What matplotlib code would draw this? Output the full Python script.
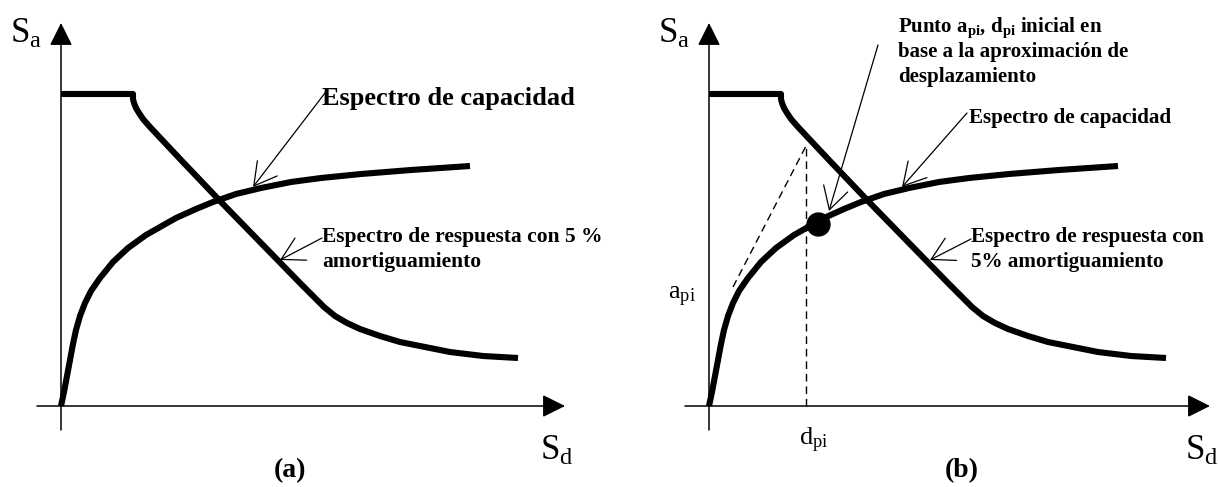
import matplotlib
matplotlib.use('Agg')
import matplotlib.pyplot as plt
from matplotlib.patches import FancyArrowPatch

plt.rcParams['font.family'] = ['Liberation Serif', 'DejaVu Serif']
plt.rcParams['mathtext.fontset'] = 'custom'
plt.rcParams['mathtext.rm'] = 'Liberation Serif'
plt.rcParams['mathtext.it'] = 'Liberation Serif:italic'
plt.rcParams['mathtext.bf'] = 'Liberation Serif:bold'

# schematic units, origin where the two axes cross
cap_sd = [0, 3, 6, 9, 12, 15, 19, 24, 30, 39, 52, 67, 85, 115, 135, 152, 175, 200, 230, 260, 300, 350, 409]
cap_sa = [0, 14, 30, 46, 62, 76, 90, 103, 115, 128, 144, 158, 171, 188, 197, 204, 212, 218, 224, 228, 232, 236, 240]

resp_sd = [0, 72, 72, 73, 75, 78, 82, 89, 120, 160, 200, 240, 252, 263, 274, 286, 299, 319, 339, 364, 389, 422, 457]
resp_sa = [312, 312, 307, 303, 298, 293, 287, 279, 246, 204, 163, 122, 110, 99, 90, 83, 77, 70, 64, 59, 54, 50, 48]

# panel (b) construction
dpi_sd = 97
dpi_top = 260
secant_sd = [24, 97]
secant_sa = [119, 260]
point_sd, point_sa = 109, 182

fig = plt.figure(figsize=(12.18, 4.87), dpi=100)
ax_a = fig.add_axes([0, 0, 0.5, 1])
ax_b = fig.add_axes([0.5, 0, 0.5, 1])
ax_a.set_xlim(-61, 548)
ax_b.set_xlim(-100, 509)
for ax in (ax_a, ax_b):
    ax.set_ylim(-81, 406)
    ax.axis('off')


def axis_arrow(ax, p0, p1):
    ax.add_patch(FancyArrowPatch(p0, p1, arrowstyle='-|>,head_length=14,head_width=7',
                                 mutation_scale=1, lw=1.1, color='k',
                                 shrinkA=0, shrinkB=0, clip_on=False))


def leader(ax, tip, start):
    ax.annotate('', xy=tip, xytext=start,
                arrowprops=dict(arrowstyle='->,head_length=16,head_width=9',
                                mutation_scale=1, lw=0.9, color='k',
                                shrinkA=0, shrinkB=0))


def lines_of_text(ax, x, baselines, lines, size):
    for y, s in zip(baselines, lines):
        ax.text(x, y, s, fontsize=size, fontweight='bold', ha='left', va='baseline')


def base_panel(ax, sd_x, tag, tag_x):
    axis_arrow(ax, (-24, 0), (sd_x + 25, 0))
    axis_arrow(ax, (0, -24), (0, 383))
    ax.plot(cap_sd, cap_sa, color='k', lw=4.4, solid_joinstyle='round', solid_capstyle='butt')
    ax.plot(resp_sd, resp_sa, color='k', lw=4.4, solid_joinstyle='round', solid_capstyle='butt')
    ax.text(-51, 363, r'S$_\mathrm{a}$', fontsize=25, ha='left', va='baseline')
    ax.text(sd_x, -54, r'S$_\mathrm{d}$', fontsize=25, ha='left', va='baseline')
    ax.text(tag_x, -65, tag, fontsize=20, fontweight='bold', ha='center', va='center')


# (a)
base_panel(ax_a, 479, '(a)', 229)
leader(ax_a, (192, 219), (264, 313))
ax_a.text(261, 301, 'Espectro de capacidad', fontsize=19, fontweight='bold', ha='left', va='baseline')
leader(ax_a, (219, 146), (261, 168))
lines_of_text(ax_a, 261, [164, 139], ['Espectro de respuesta con 5 %', 'amortiguamiento'], 15.5)

# (b)
base_panel(ax_b, 476, '(b)', 253)
ax_b.plot([dpi_sd, dpi_sd], [0, dpi_top], color='k', lw=1.0, ls='--', dashes=(5.5, 3.5))
ax_b.plot(secant_sd, secant_sa, color='k', lw=1.0, ls='--', dashes=(5.5, 3.5))
ax_b.plot(point_sd, point_sa, 'o', color='k', ms=16.5)
ax_b.text(-27, 109, r'a$_\mathrm{pi}$', fontsize=19, ha='center', va='center')
ax_b.text(dpi_sd + 8, -34, r'd$_\mathrm{pi}$', fontsize=19, ha='center', va='center')

leader(ax_b, (120, 195), (169, 361))
lines_of_text(ax_b, 189, [374, 349, 324],
              [r'Punto $\mathbf{a}_\mathbf{pi}$, $\mathbf{d}_\mathbf{pi}$ inicial en',
               'base a la aproximación de', 'desplazamiento'], 15)
leader(ax_b, (193, 219), (258, 293))
ax_b.text(260, 283, 'Espectro de capacidad', fontsize=15.2, fontweight='bold', ha='left', va='baseline')
leader(ax_b, (221, 146), (262, 167))
lines_of_text(ax_b, 262, [164, 139], ['Espectro de respuesta con', '5% amortiguamiento'], 15.2)

fig.savefig('out.png', dpi=100)
